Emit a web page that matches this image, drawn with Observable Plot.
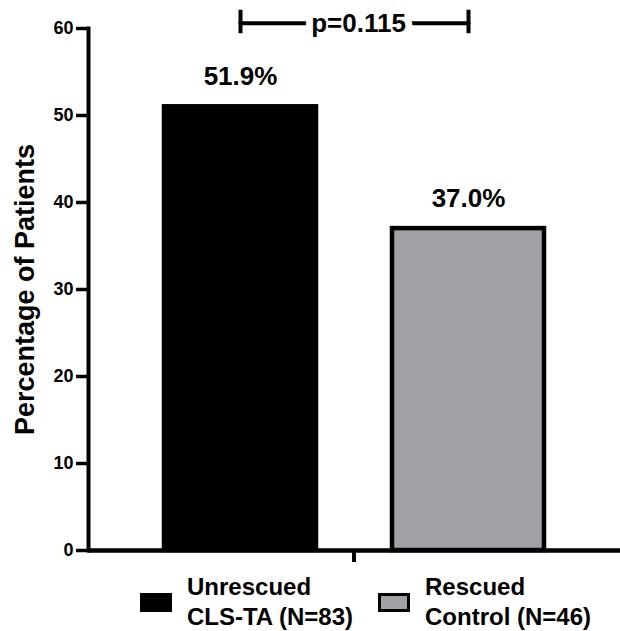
<!DOCTYPE html>
<html>
<head>
<meta charset="utf-8">
<script src="https://cdn.jsdelivr.net/npm/d3@7"></script>
<script src="https://cdn.jsdelivr.net/npm/@observablehq/plot@0.6"></script>
<style>
  html, body { margin: 0; padding: 0; background: #fff; }
  body { width: 620px; font-family: "Liberation Sans", Arial, sans-serif; font-weight: bold; }
  #legend { position: relative; height: 59px; font-size: 24px; line-height: 30px; color: #000; }
  .item { position: absolute; top: 0; display: flex; align-items: center; }
  .sw { width: 32px; height: 19px; box-sizing: border-box; border: 3px solid #000; margin-right: 15px; }
</style>
</head>
<body>
<div id="chart"></div>
<div id="legend"></div>
<script>
// ---- data ----
const categories = ["Unrescued CLS-TA (N=83)", "Rescued Control (N=46)"];
const legendLines = [["Unrescued", "CLS-TA (N=83)"], ["Rescued", "Control (N=46)"]];
const percentages = [51.0, 37.0];
const valueLabels = ["51.9%", "37.0%"];
const barColors = ["#000000", "#a2a1a6"];
const yTicks = [0, 10, 20, 30, 40, 50, 60];
const yLabel = "Percentage of Patients";
const pValueLabel = "p=0.115";
const bracketLevel = 60.6;
const bracketCap = [59.4, 62.1];

const data = categories.map((c, i) => ({group: c, value: percentages[i], label: valueLabels[i], color: barColors[i]}));
const bracket = categories.map(c => ({group: c, y: bracketLevel, y1: bracketCap[0], y2: bracketCap[1]}));

function midTick(index, scales, values, dimensions) {
  const x = scales.x;
  const bw = x.bandwidth ? x.bandwidth() : 0;
  const xm = (x(categories[0]) + x(categories[1]) + bw) / 2;
  const y0 = dimensions.height - dimensions.marginBottom;
  const g = d3.create("svg:g");
  g.append("line").attr("x1", xm).attr("x2", xm).attr("y1", y0).attr("y2", y0 + 12)
    .attr("stroke", "black").attr("stroke-width", 4);
  return g.node();
}

const chart = Plot.plot({
  width: 620,
  height: 572,
  marginLeft: 88,
  marginRight: 0,
  marginTop: 28,
  marginBottom: 22,
  style: {fontFamily: "'Liberation Sans', Arial, sans-serif", fontWeight: "bold", color: "black", background: "white"},
  x: {domain: categories, paddingInner: 0.335, paddingOuter: 0.33, axis: null},
  y: {domain: [0, 60], axis: null},
  color: {type: "identity"},
  marks: [
    Plot.barY(data, {x: "group", y: "value", fill: "color", stroke: "black", strokeWidth: 4.5}),
    Plot.text(data, {x: "group", y: "value", text: "label", dy: -30, fontSize: 26, fontWeight: "bold", fill: "black"}),
    Plot.ruleY([0], {stroke: "black", strokeWidth: 4.5}),
    Plot.frame({anchor: "left", stroke: "black", strokeWidth: 4}),
    Plot.axisY({ticks: yTicks, tickSize: 12, tickPadding: 3, strokeWidth: 3.5, fontSize: 18, fontWeight: "bold", label: null, tickFormat: d => d}),
    Plot.text([yLabel], {frameAnchor: "left", textAnchor: "middle", rotate: -90, dx: -63, fontSize: 27, fontWeight: "bold", fill: "black"}),
    // p-value bracket
    Plot.line(bracket, {x: "group", y: "y", stroke: "black", strokeWidth: 4}),
    Plot.ruleX(bracket, {x: "group", y1: "y1", y2: "y2", stroke: "black", strokeWidth: 4}),
    Plot.text([pValueLabel], {frameAnchor: "middle", y: bracketLevel, dx: 4, text: d => d, fontSize: 26, fontWeight: "bold", fill: "black", stroke: "white", strokeWidth: 14, paintOrder: "stroke"}),
    midTick
  ]
});
document.getElementById("chart").appendChild(chart);

// ---- legend ----
const legend = document.getElementById("legend");
const itemLeft = [140, 378];
legendLines.forEach((lines, i) => {
  const item = document.createElement("div");
  item.className = "item";
  item.style.left = itemLeft[i] + "px";
  const sw = document.createElement("div");
  sw.className = "sw";
  sw.style.background = barColors[i];
  const txt = document.createElement("div");
  txt.innerHTML = lines.join("<br>");
  item.appendChild(sw);
  item.appendChild(txt);
  legend.appendChild(item);
});
</script>
</body>
</html>
